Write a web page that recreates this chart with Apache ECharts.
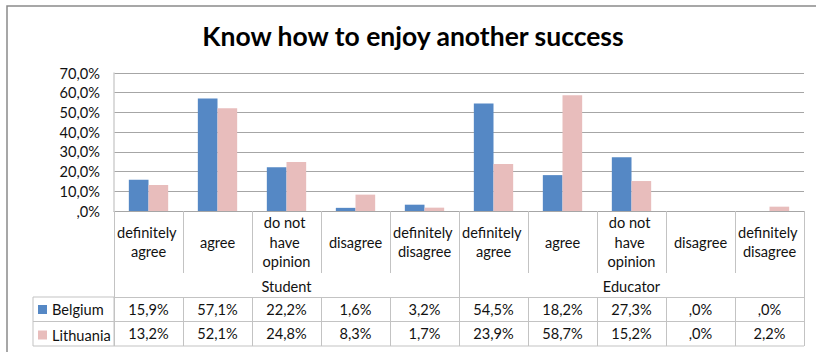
<!DOCTYPE html>
<html>
<head>
<meta charset="utf-8">
<title>Know how to enjoy another success</title>
<script src="https://cdn.jsdelivr.net/npm/echarts@6/dist/echarts.min.js"></script>
<style>
  html, body { margin: 0; padding: 0; background: #fff; }
  #chart { width: 816px; height: 352px; }
</style>
</head>
<body>
<div id="chart"></div>
<script>
// Survey answers, grouped by respondent type
const responses = ['definitely agree', 'agree', 'do not have opinion', 'disagree', 'definitely disagree'];
const groups = ['Student', 'Educator'];
const seriesNames = ['Belgium', 'Lithuania'];

// Share of answers, % (Student block first, then Educator block)
const belgium   = [15.9, 57.1, 22.2, 1.6, 3.2, 54.5, 18.2, 27.3, 0.0, 0.0];
const lithuania = [13.2, 52.1, 24.8, 8.3, 1.7, 23.9, 58.7, 15.2, 0.0, 2.2];

// Value axis ticks
const yTicks = [0, 10, 20, 30, 40, 50, 60, 70];
const yTickLabels = [',0%', '10,0%', '20,0%', '30,0%', '40,0%', '50,0%', '60,0%', '70,0%'];

// One category per (group, answer) pair
const categories = [];
groups.forEach(function () { responses.forEach(function (r) { categories.push(r); }); });

// Decimal comma, no leading zero: 0 -> ",0%", 15.9 -> "15,9%"
function pct(v) {
  const s = v.toFixed(1).replace('.', ',');
  return (s.indexOf('0,') === 0 ? s.slice(1) : s) + '%';
}

// Layout of the plot area and the data table under it
const FONT = 'Lato, "Open Sans", sans-serif';
const plot = { left: 114, right: 804, top: 73, bottom: 211 };
const catRowH = 62, groupRowH = 24, tableRowH = 24.5;
const tableLeft = 33;
const gridLine = '#a6a6a6';
const tableLine = '#c3c3c3';
const blue = '#5588c5';
const pink = '#e8bdbc';

const groupTop = plot.bottom + catRowH;
const tableTop = groupTop + groupRowH;
const tableBottom = tableTop + 2 * tableRowH;

const chart = echarts.init(document.getElementById('chart'), null, { renderer: 'svg' });

const textBase = { fontFamily: FONT, fontSize: 14.6, color: '#111' };

chart.setOption({
  animation: false,
  title: {
    text: 'Know how to enjoy another success',
    left: 408, textAlign: 'center', top: 17,
    textStyle: { fontFamily: FONT, fontSize: 26.5, fontWeight: 'bold', color: '#000' }
  },
  legend: {
    orient: 'vertical',
    left: 38, top: tableTop + 5,
    padding: 0,
    itemGap: 10.5,
    itemWidth: 9, itemHeight: 9,
    icon: 'rect',
    selectedMode: false,
    textStyle: Object.assign({ lineHeight: 14 }, textBase),
    data: seriesNames
  },
  grid: {
    left: plot.left, right: 816 - plot.right,
    top: plot.top, bottom: 352 - plot.bottom,
    containLabel: false
  },
  xAxis: [
    {
      // answer labels
      type: 'category', data: categories, position: 'bottom',
      axisLine: { show: true, lineStyle: { color: gridLine, width: 1 } },
      axisTick: { show: true, interval: 0, length: catRowH, lineStyle: { color: tableLine } },
      axisLabel: Object.assign({
        interval: 0, margin: catRowH / 2, verticalAlign: 'middle',
        width: 64, overflow: 'break', lineHeight: 19.5, align: 'center'
      }, textBase),
      splitLine: { show: false }
    },
    {
      // respondent groups
      type: 'category', data: groups, position: 'bottom', offset: catRowH, gridIndex: 0,
      axisLine: { show: false },
      axisTick: { show: true, interval: 0, length: groupRowH + 2 * tableRowH, lineStyle: { color: tableLine } },
      axisLabel: Object.assign({ interval: 0, margin: groupRowH / 2 + 1, verticalAlign: 'middle' }, textBase)
    },
    {
      // Belgium row of the data table
      type: 'category', data: belgium.map(pct), position: 'bottom', offset: catRowH + groupRowH,
      axisLine: { show: true, lineStyle: { color: tableLine } },
      axisTick: { show: true, interval: 0, length: tableRowH, lineStyle: { color: tableLine } },
      axisLabel: Object.assign({ interval: 0, margin: tableRowH / 2, verticalAlign: 'middle' }, textBase)
    },
    {
      // Lithuania row of the data table
      type: 'category', data: lithuania.map(pct), position: 'bottom', offset: catRowH + groupRowH + tableRowH,
      axisLine: { show: true, lineStyle: { color: tableLine } },
      axisTick: { show: true, interval: 0, length: tableRowH, lineStyle: { color: tableLine } },
      axisLabel: Object.assign({ interval: 0, margin: tableRowH / 2, verticalAlign: 'middle' }, textBase)
    }
  ],
  yAxis: {
    type: 'value',
    min: yTicks[0], max: yTicks[yTicks.length - 1], interval: 10,
    axisLine: { show: true, lineStyle: { color: '#cfcfcf', width: 1.5 } },
    axisTick: { show: false },
    splitLine: { show: true, lineStyle: { color: gridLine, width: 1 } },
    axisLabel: Object.assign({
      margin: 14,
      formatter: function (v) { const i = yTicks.indexOf(v); return i >= 0 ? yTickLabels[i] : ''; }
    }, textBase)
  },
  series: [
    {
      name: seriesNames[0], type: 'bar', xAxisIndex: 0, data: belgium,
      barGap: '0%', barCategoryGap: '43%',
      itemStyle: { color: blue }
    },
    {
      name: seriesNames[1], type: 'bar', xAxisIndex: 0, data: lithuania,
      barGap: '0%', barCategoryGap: '43%',
      itemStyle: { color: pink }
    }
  ],
  graphic: [
    // outer chart frame
    {
      type: 'rect', silent: true, z: -1,
      shape: { x: 7, y: 6, width: 830, height: 360 },
      style: { fill: 'none', stroke: '#8a8a8a', lineWidth: 1.5 }
    },
    // legend cells of the data table
    {
      type: 'rect', silent: true,
      shape: { x: tableLeft, y: tableTop, width: plot.left - tableLeft, height: tableBottom - tableTop },
      style: { fill: 'none', stroke: tableLine, lineWidth: 1 }
    },
    {
      type: 'line', silent: true,
      shape: { x1: tableLeft, y1: tableTop + tableRowH, x2: plot.left, y2: tableTop + tableRowH },
      style: { stroke: tableLine, lineWidth: 1 }
    },
    // bottom edge of the data table
    {
      type: 'line', silent: true,
      shape: { x1: plot.left, y1: tableBottom, x2: plot.right, y2: tableBottom },
      style: { stroke: tableLine, lineWidth: 1 }
    }
  ]
});
</script>
</body>
</html>
